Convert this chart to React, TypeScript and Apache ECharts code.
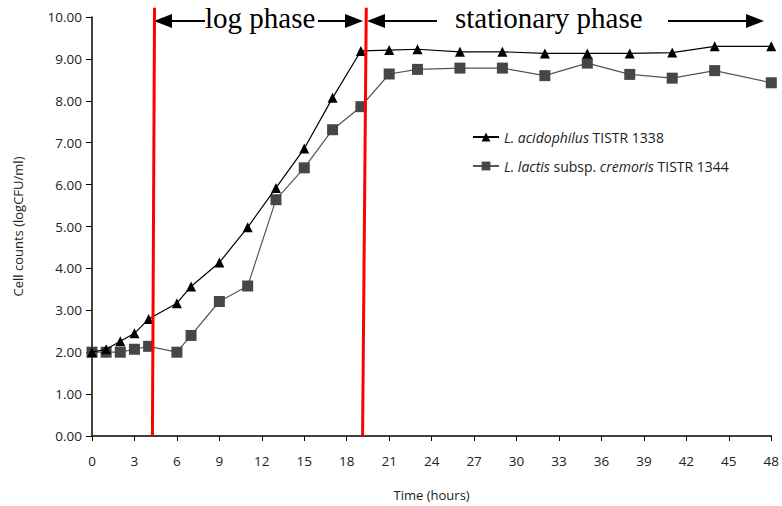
import React, { useEffect, useRef } from "react";
import * as echarts from "echarts";

const hoursA = [0, 1, 2, 3, 4, 6, 7, 9, 11, 13, 15, 17, 19, 21, 23, 26, 29, 32, 35, 38, 41, 44, 48];
const acidophilus = [2.0, 2.07, 2.26, 2.45, 2.79, 3.17, 3.57, 4.14, 4.98, 5.92, 6.86, 8.07, 9.19, 9.21, 9.23, 9.17, 9.17, 9.13, 9.13, 9.13, 9.15, 9.3, 9.3];
const lactis = [2.0, 2.0, 2.0, 2.07, 2.14, 2.0, 2.4, 3.21, 3.58, 5.64, 6.4, 7.31, 7.86, 8.64, 8.75, 8.78, 8.78, 8.6, 8.9, 8.63, 8.54, 8.72, 8.43];
// phase boundaries: [hour at top, hour at bottom]
const phaseBounds = [
  [4.42, 4.27],
  [19.38, 19.12],
];
const boundTop = 10.22;
const seriesNames = ["L. acidophilus TISTR 1338", "L. lactis subsp. cremoris TISTR 1344"];

export default function App() {
  const ref = useRef<HTMLDivElement>(null);
  useEffect(() => {
    if (!ref.current) return;
    const chart = echarts.init(ref.current, undefined, { renderer: "svg" });
    const font = "Open Sans";
    const arrowY = 21;
    const arrowStyle = { stroke: "#000", lineWidth: 2 };
    const head = (x: number, dir: number) => ({
      type: "polygon",
      shape: { points: [[x, arrowY], [x - dir * 18, arrowY - 7], [x - dir * 18, arrowY + 7]] },
      style: { fill: "#000" },
    });
    const boundSeries = phaseBounds.map((b, i) => ({
      name: "bound" + i,
      type: "line",
      data: [
        [b[0], boundTop],
        [b[1], 0],
      ],
      symbol: "none",
      clip: false,
      silent: true,
      lineStyle: { color: "#ff0000", width: 3 },
      z: 4,
    }));
    chart.setOption({
      animation: false,
      backgroundColor: "#fff",
      grid: { left: 92, right: 9, top: 17, bottom: 69 },
      xAxis: {
        type: "value",
        min: 0,
        max: 48,
        interval: 3,
        name: "Time (hours)",
        nameLocation: "middle",
        nameGap: 52,
        nameTextStyle: { fontFamily: font, fontSize: 13, color: "#222" },
        axisLine: { lineStyle: { color: "#000", width: 1.5 } },
        axisTick: { show: true, length: 5, lineStyle: { color: "#000" } },
        axisLabel: { fontFamily: font, fontSize: 13.5, color: "#222", margin: 18 },
        splitLine: { show: false },
      },
      yAxis: {
        type: "value",
        min: 0,
        max: 10,
        interval: 1,
        name: "Cell counts (logCFU/ml)",
        nameLocation: "middle",
        nameGap: 68,
        nameTextStyle: { fontFamily: font, fontSize: 13, color: "#222" },
        axisLine: { show: true, lineStyle: { color: "#000", width: 1.5 } },
        axisTick: { show: true, length: 6, lineStyle: { color: "#000" } },
        axisLabel: { fontFamily: font, fontSize: 13.5, color: "#222", margin: 10, formatter: (v: number) => v.toFixed(2) },
        splitLine: { show: false },
      },
      legend: {
        left: 467,
        top: 125,
        orient: "vertical",
        itemWidth: 26,
        itemHeight: 11,
        itemGap: 15,
        data: seriesNames,
        formatter: (name: string) =>
          name === seriesNames[0]
            ? "{i|L. acidophilus} TISTR 1338"
            : "{i|L. lactis} subsp. {i|cremoris} TISTR 1344",
        textStyle: {
          fontFamily: font,
          fontSize: 14,
          color: "#222",
          rich: { i: { fontFamily: font, fontSize: 14, fontStyle: "italic", color: "#222" } },
        },
      },
      series: [
        {
          name: seriesNames[0],
          type: "line",
          data: hoursA.map((h, i) => [h, acidophilus[i]]),
          symbol: "triangle",
          symbolSize: 10,
          itemStyle: { color: "#000" },
          lineStyle: { color: "#000", width: 1.2 },
          z: 3,
        },
        {
          name: seriesNames[1],
          type: "line",
          data: hoursA.map((h, i) => [h, lactis[i]]),
          symbol: "rect",
          symbolSize: 11,
          itemStyle: { color: "#464646" },
          lineStyle: { color: "#555", width: 1.2 },
          z: 2,
        },
        ...boundSeries,
      ],
      graphic: [
        { type: "line", shape: { x1: 160, y1: arrowY, x2: 205, y2: arrowY }, style: arrowStyle },
        head(154, -1),
        {
          type: "text",
          left: 205,
          top: 3,
          style: { text: "log phase", font: "29px 'Liberation Serif', 'Times New Roman', serif", fill: "#000" },
        },
        { type: "line", shape: { x1: 318, y1: arrowY, x2: 356, y2: arrowY }, style: arrowStyle },
        head(363, 1),
        { type: "line", shape: { x1: 380, y1: arrowY, x2: 437, y2: arrowY }, style: arrowStyle },
        head(367, -1),
        {
          type: "text",
          left: 455,
          top: 3,
          style: { text: "stationary phase", font: "29px 'Liberation Serif', 'Times New Roman', serif", fill: "#000" },
        },
        { type: "line", shape: { x1: 668, y1: arrowY, x2: 750, y2: arrowY }, style: arrowStyle },
        head(764, 1),
      ],
    });
    return () => chart.dispose();
  }, []);
  return <div ref={ref} style={{ width: 782, height: 506, position: "absolute", left: 0, top: 0 }} />;
}
